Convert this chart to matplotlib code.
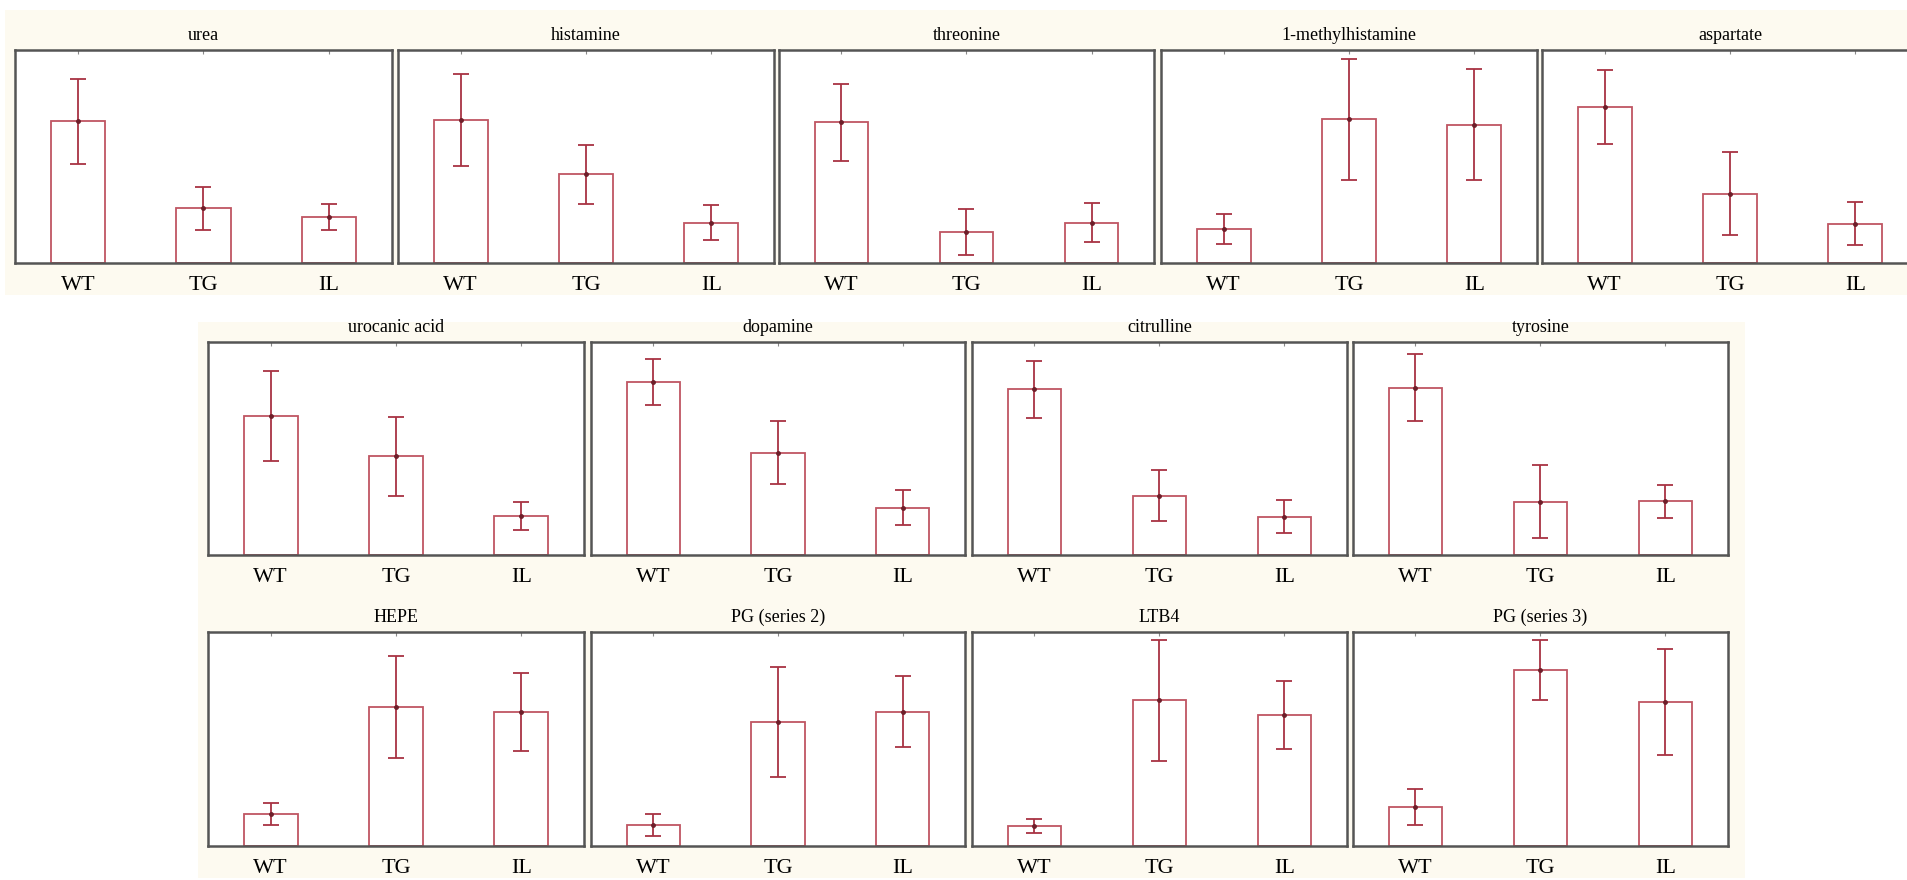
import matplotlib.pyplot as plt
from matplotlib.patches import Rectangle
import numpy as np

# ---------------------------------------------------------------- data
groups = ['WT', 'TG', 'IL']

metabolites = ['urea', 'histamine', 'threonine', '1-methylhistamine', 'aspartate',
               'urocanic acid', 'dopamine', 'citrulline', 'tyrosine',
               'HEPE', 'PG (series 2)', 'LTB4', 'PG (series 3)']

# bar heights (relative to panel height)
mean_wt = [0.666, 0.672, 0.661, 0.160, 0.732,
           0.653, 0.812, 0.777, 0.785,
           0.151, 0.097, 0.094, 0.182]
mean_tg = [0.257, 0.417, 0.146, 0.674, 0.326,
           0.464, 0.481, 0.279, 0.251,
           0.650, 0.578, 0.680, 0.824]
mean_il = [0.215, 0.189, 0.189, 0.650, 0.185,
           0.184, 0.223, 0.180, 0.252,
           0.625, 0.628, 0.613, 0.674]

# error bars (half length)
sem_wt = [0.200, 0.215, 0.181, 0.071, 0.173,
          0.211, 0.107, 0.133, 0.158,
          0.052, 0.052, 0.034, 0.085]
sem_tg = [0.100, 0.138, 0.107, 0.285, 0.194,
          0.186, 0.150, 0.118, 0.170,
          0.237, 0.257, 0.283, 0.140]
sem_il = [0.062, 0.082, 0.091, 0.259, 0.100,
          0.067, 0.081, 0.078, 0.078,
          0.183, 0.166, 0.160, 0.247]

# ---------------------------------------------------------------- layout (pixels)
W, H = 1908, 880
row1_x = [(15, 392), (398, 774), (779, 1154), (1161, 1537), (1542, 1918)]
row23_x = [(208, 584), (591, 965), (972, 1347), (1353, 1728)]
rows_y = [(50, 263), (342, 555), (632, 846)]

boxes = [(x, rows_y[0]) for x in row1_x] + \
        [(x, rows_y[1]) for x in row23_x] + \
        [(x, rows_y[2]) for x in row23_x]

bar_col = '#bf5562'
err_col = '#a83343'
frame_col = '#555555'
cream = '#fdfaf0'

plt.rcParams['font.family'] = ['Liberation Serif', 'DejaVu Serif']

fig = plt.figure(figsize=(W / 100, H / 100), dpi=100)
fig.patch.set_facecolor('white')

# cream panels behind the rows
for (x0, y0, x1, y1) in [(5, 10, 1908, 295), (198, 322, 1745, 878)]:
    fig.add_artist(Rectangle((x0 / W, 1 - y1 / H), (x1 - x0) / W, (y1 - y0) / H,
                             transform=fig.transFigure, facecolor=cream,
                             edgecolor='none', zorder=-10))

xpos = np.arange(len(groups))
for i, name in enumerate(metabolites):
    (x0, x1), (y0, y1) = boxes[i]
    ax = fig.add_axes([x0 / W, 1 - y1 / H, (x1 - x0) / W, (y1 - y0) / H])
    ax.set_facecolor('white')

    m = [mean_wt[i], mean_tg[i], mean_il[i]]
    s = [sem_wt[i], sem_tg[i], sem_il[i]]
    ax.bar(xpos, m, width=0.43, facecolor='white', edgecolor=bar_col, linewidth=1.3)
    ax.errorbar(xpos, m, yerr=s, fmt='o', ms=2.5, color='#6e1f2a', ecolor=err_col,
                elinewidth=1.3, capsize=6, capthick=1.3)

    ax.set_xlim(-0.5, 2.5)
    ax.set_ylim(0, 1)
    ax.set_xticks(xpos)
    ax.set_xticklabels(groups, fontsize=16)
    ax.set_yticks([])
    ax.tick_params(axis='x', bottom=False, top=True, direction='in', length=3,
                   color='#888888', pad=9)
    for sp in ax.spines.values():
        sp.set_color(frame_col)
        sp.set_linewidth(1.8)
    ax.set_title(name, fontsize=13, pad=7)

plt.savefig('out.png', dpi=100)
